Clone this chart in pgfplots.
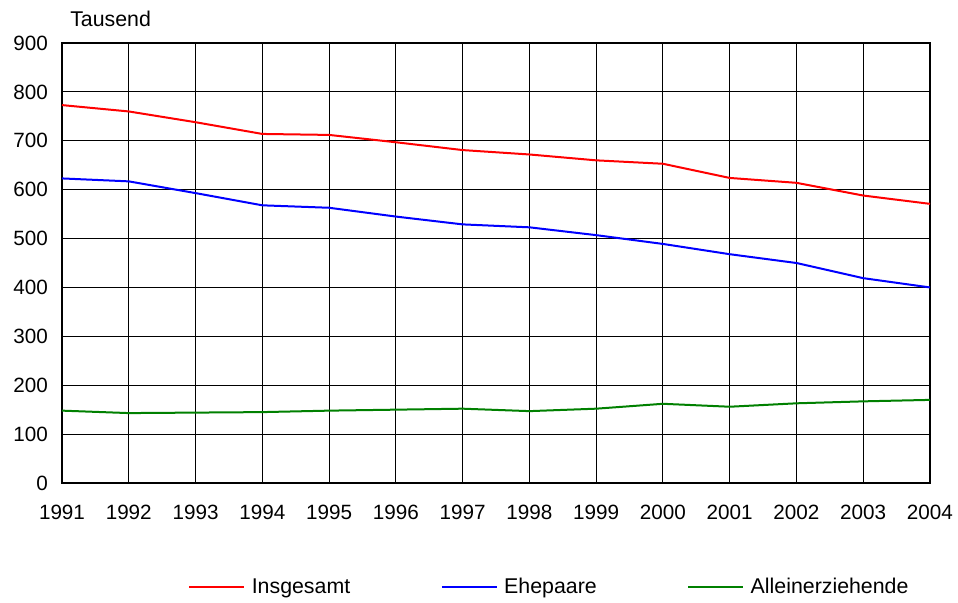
\documentclass[border=0pt]{standalone}
\usepackage{pgfplots}
\pgfplotsset{compat=1.18}
\usepackage{fontspec}
\setmainfont{Liberation Sans}
\begin{document}
\begin{tikzpicture}
\begin{axis}[
  name=ax,
  scale only axis,
  width=651pt, height=330pt,
  xmin=1991, xmax=2004,
  ymin=0, ymax=900,
  xtick={1991,1992,...,2004},
  ytick={0,100,...,900},
  xticklabel style={/pgf/number format/1000 sep={}, yshift=-13pt},
  yticklabel style={xshift=-7pt},
  /pgf/number format/assume math mode=true,
  tick label style={font=\fontsize{15.5}{18}\selectfont},
  tick align=inside,
  major tick length=0pt,
  grid=major,
  major grid style={black, line width=0.6pt},
  axis line style={black, line width=1.5pt},
  clip=false,
  legend style={at={(0.562,-0.236)}, anchor=center, draw=none, fill=none,
    font=\fontsize{16}{19}\selectfont, legend columns=3,
    /tikz/every odd column/.append style={column sep=3pt},
    /tikz/every even column/.append style={column sep=66pt}},
  legend cell align=left,
  legend image code/.code={\draw[#1] (0pt,0pt) -- (41pt,0pt);},
]
\addplot[red, line width=1.5pt] coordinates {
(1991,773) (1992,760) (1993,738) (1994,714) (1995,712) (1996,697) (1997,681)
(1998,672) (1999,660) (2000,653) (2001,624) (2002,614) (2003,588) (2004,571)};
\addlegendentry{Insgesamt}
\addplot[blue, line width=1.5pt] coordinates {
(1991,623) (1992,617) (1993,593) (1994,568) (1995,563) (1996,545) (1997,529)
(1998,523) (1999,507) (2000,489) (2001,468) (2002,450) (2003,419) (2004,400)};
\addlegendentry{Ehepaare}
\addplot[color={rgb,255:red,0;green,128;blue,0}, line width=1.5pt] coordinates {
(1991,148) (1992,143) (1993,144) (1994,145) (1995,148) (1996,150) (1997,152)
(1998,147) (1999,152) (2000,162) (2001,156) (2002,163) (2003,167) (2004,170)};
\addlegendentry{Alleinerziehende}
\end{axis}
\node[anchor=base west, inner sep=0pt, font=\fontsize{16}{19}\selectfont] at ([xshift=6pt,yshift=12.75pt]ax.north west) {Tausend};
\path[use as bounding box] (-46.5pt,-90pt) rectangle (672pt,362.25pt);
\end{tikzpicture}
\end{document}
